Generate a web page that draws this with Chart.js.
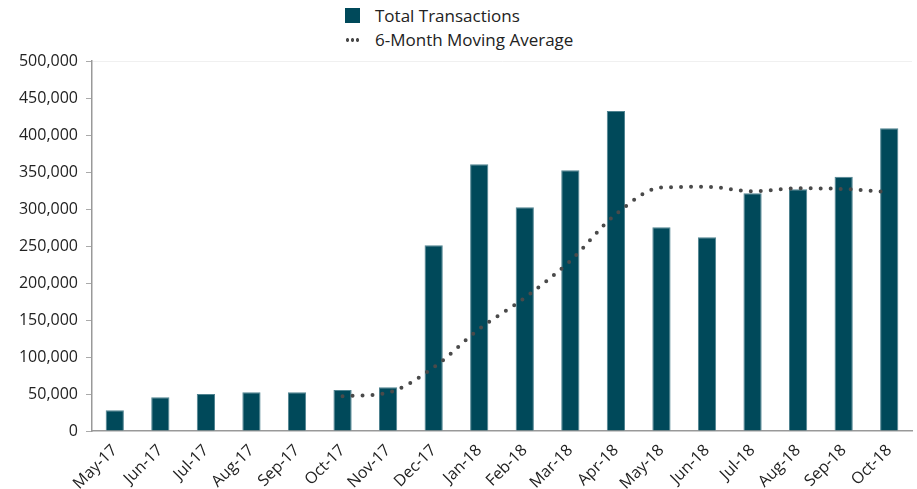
<!DOCTYPE html>
<html lang="en">
<head>
<meta charset="UTF-8">
<title>Total Transactions</title>
<script src="https://cdn.jsdelivr.net/npm/chart.js@4.4.0/dist/chart.umd.min.js"></script>
<style>
body { margin: 0; background: white; }
#wrap { position: relative; width: 917px; height: 489px; }
#legend {
    position: absolute; left: 322px; top: 0; width: 268px; height: 60px;
    background: white; font-family: "Open Sans", sans-serif; font-size: 17px; color: #222;
}
.item { position: absolute; left: 23px; height: 20px; line-height: 20px; }
.item span { position: absolute; left: 30px; white-space: nowrap; }
.box { position: absolute; top: 2px; width: 15px; height: 15px; background: #00495a; }
.dots { position: absolute; top: 8px; width: 15px; height: 4px;
    background: radial-gradient(circle, #4a4a4a 1.6px, transparent 2px) 0 0 / 5px 4px repeat-x; }
</style>
</head>
<body>
<div id="wrap">
    <canvas id="chart" width="917" height="489"></canvas>
    <div id="legend">
        <div class="item" style="top:6px"><div class="box"></div><span>Total Transactions</span></div>
        <div class="item" style="top:30px"><div class="dots"></div><span>6-Month Moving Average</span></div>
    </div>
</div>
<script>
const months = ["May-17", "Jun-17", "Jul-17", "Aug-17", "Sep-17", "Oct-17", "Nov-17", "Dec-17", "Jan-18",
    "Feb-18", "Mar-18", "Apr-18", "May-18", "Jun-18", "Jul-18", "Aug-18", "Sep-18", "Oct-18"];
const transactions = [28000, 45500, 50000, 52300, 52300, 55400, 59000, 251000, 360500,
    302300, 352300, 432400, 275300, 261800, 321200, 326600, 343700, 409000];
const movingAvg = [null, null, null, null, null, 47000, 52000, 86000, 138000,
    180000, 230000, 293000, 329000, 330000, 324000, 328000, 327000, 323000];
const yTicks = [0, 50000, 100000, 150000, 200000, 250000, 300000, 350000, 400000, 450000, 500000];

const font = { family: "'Open Sans', sans-serif", size: 16 };

new Chart(document.getElementById("chart"), {
    data: {
        labels: months,
        datasets: [{
            type: "line",
            label: "6-Month Moving Average",
            data: movingAvg,
            borderColor: "#4a4a4a",
            borderWidth: 4,
            borderDash: [0, 10],
            borderCapStyle: "round",
            cubicInterpolationMode: "monotone",
            pointRadius: 0,
            fill: false,
            order: 0
        }, {
            type: "bar",
            label: "Total Transactions",
            data: transactions,
            backgroundColor: "#00495a",
            borderColor: "#4f8390",
            borderWidth: 1,
            categoryPercentage: 0.8,
            barPercentage: 0.5,
            order: 1
        }]
    },
    options: {
        responsive: false,
        animation: false,
        layout: { padding: { top: 61, right: 5, left: 0, bottom: 0 } },
        plugins: { legend: { display: false }, tooltip: { enabled: false } },
        scales: {
            x: {
                grid: { display: false },
                border: { display: true, color: "#999", width: 1.5 },
                ticks: { color: "#222", font: font, maxRotation: 45, minRotation: 45, padding: 2 },
                afterFit: s => { s.height = 58; }
            },
            y: {
                min: 0,
                max: 500000,
                afterBuildTicks: s => { s.ticks = yTicks.map(v => ({ value: v })); },
                grid: {
                    color: c => c.tick && c.tick.value === 500000 ? "#f0f0f0" : "transparent",
                    tickColor: "#aaa",
                    tickLength: 6,
                    drawOnChartArea: true
                },
                border: { color: "#999", width: 1.5 },
                ticks: { color: "#222", font: font, padding: 8, callback: v => v.toLocaleString("en-US") },
                afterFit: s => { s.width = 92; }
            }
        }
    }
});
</script>
</body>
</html>
